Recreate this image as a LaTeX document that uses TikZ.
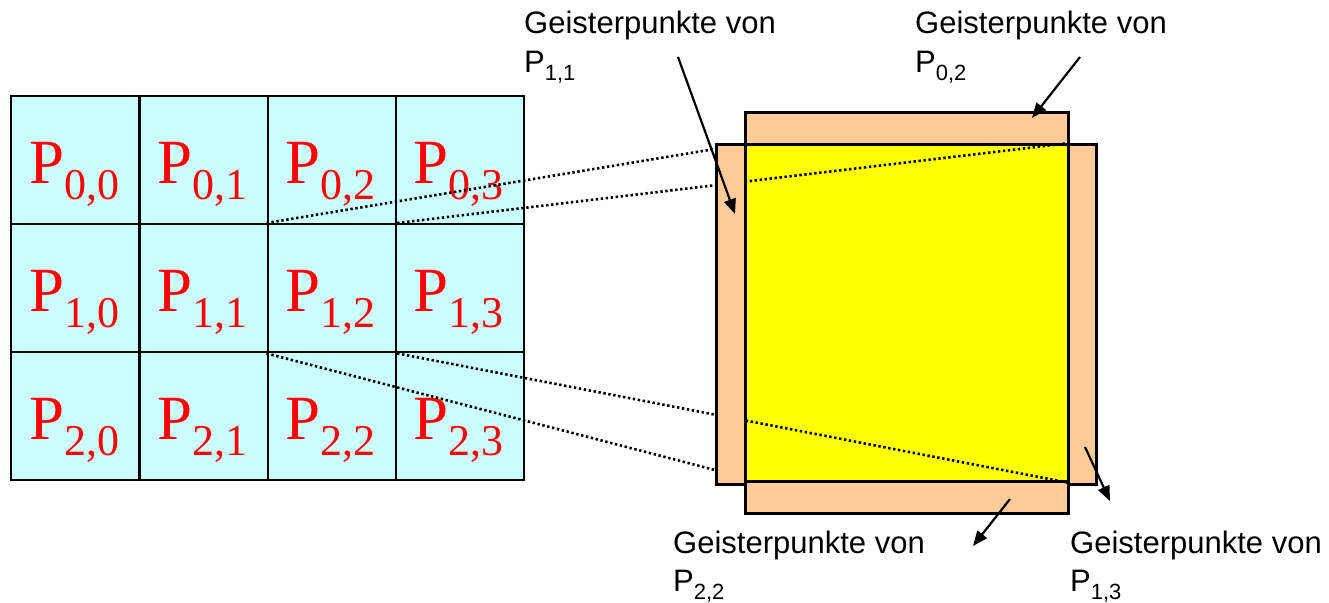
\documentclass[tikz,border=0pt]{standalone}
\usepackage{fontspec}
\setmainfont{Liberation Sans}
\newfontfamily\serifP{Liberation Serif}
\usetikzlibrary{arrows.meta}
\definecolor{cellc}{HTML}{CCFFFF}
\definecolor{ghostc}{HTML}{FFCC99}
\definecolor{corec}{HTML}{FFFF00}
\newcommand\gsub[1]{\raisebox{-8pt}{\fontsize{22}{22}\selectfont #1}}
\newcommand\csub[1]{\raisebox{-16pt}{\fontsize{44}{44}\selectfont #1}}
\begin{document}
\begin{tikzpicture}[x=1pt,y=-1pt,
  cell/.style={draw=black, fill=cellc, line width=2.4pt, minimum width=128.25pt, minimum height=128pt, inner sep=0pt, anchor=north west},
  clabel/.style={anchor=base, text=red, font=\serifP\fontsize{63}{63}\selectfont, inner sep=0pt},
  box/.style={draw=black, line width=3pt, inner sep=0pt, anchor=north west},
  ghost/.style={box, fill=ghostc},
  core/.style={box, fill=corec},
  link/.style={line width=2.6pt, dash pattern=on 2.4pt off 2.6pt},
  pointer/.style={line width=2.2pt, -{Triangle[length=15pt,width=12pt]}},
  gl/.style={anchor=base west, inner sep=0pt, font=\fontsize{31}{31}\selectfont}
]
\useasboundingbox (0,0) rectangle (1329,602);
\fill[white] (0,0) rectangle (1329,602);

% grid of processes
\foreach \r in {0,1,2} {
  \foreach \c in {0,...,3} {
    \node[cell] (c\r\c) at ({10+128.25*\c},{95+128*\r}) {};
    \node[clabel] (l\r\c) at ({74.125+128.25*\c},{183+128*\r}) {P\csub{\r,\c}};
  }
}

% subdomain with ghost points
\node[ghost, minimum width=323pt, minimum height=32pt] (tg) at (744,111) {};
\node[ghost, minimum width=323pt, minimum height=32pt] (bg) at (744,480) {};
\node[core, minimum width=323pt, minimum height=337pt] (core) at (744,143) {};

\coordinate (la) at (715,149);
\coordinate (lb) at (715,470);
\draw[link] (c12.north west) -- (la);
\draw[link] (c12.north east) -- (core.north east);
\draw[link] (c12.south west) -- (lb);
\draw[link] (c12.south east) -- (core.south east);

\node[ghost, minimum width=29pt, minimum height=340pt] (lg) at (715,143) {};
\node[ghost, minimum width=28pt, minimum height=340pt] (rg) at (1067,143) {};

% labels
\node[gl] (t11) at (524,34) {Geisterpunkte von};
\node[gl] (p11) at (524,73) {P\gsub{1,1}};
\node[gl] (t02) at (915,34) {Geisterpunkte von};
\node[gl] (p02) at (915,73) {P\gsub{0,2}};
\node[gl] (t22) at (673,553) {Geisterpunkte von};
\node[gl] (p22) at (673,591) {P\gsub{2,2}};
\node[gl] (t13) at (1070,553) {Geisterpunkte von};
\node[gl] (p13) at (1070,591) {P\gsub{1,3}};

% pointers
\coordinate (a11s) at (678,57);   \coordinate (a11e) at (735,214);
\coordinate (a02s) at (1080,57);  \coordinate (a02e) at (1032,118);
\coordinate (a22s) at (1010,499); \coordinate (a22e) at (973,546);
\coordinate (a13s) at (1085,447); \coordinate (a13e) at (1110,501);
\draw[pointer] (a11s) -- (a11e);
\draw[pointer] (a02s) -- (a02e);
\draw[pointer] (a22s) -- (a22e);
\draw[pointer] (a13s) -- (a13e);
\end{tikzpicture}
\end{document}
